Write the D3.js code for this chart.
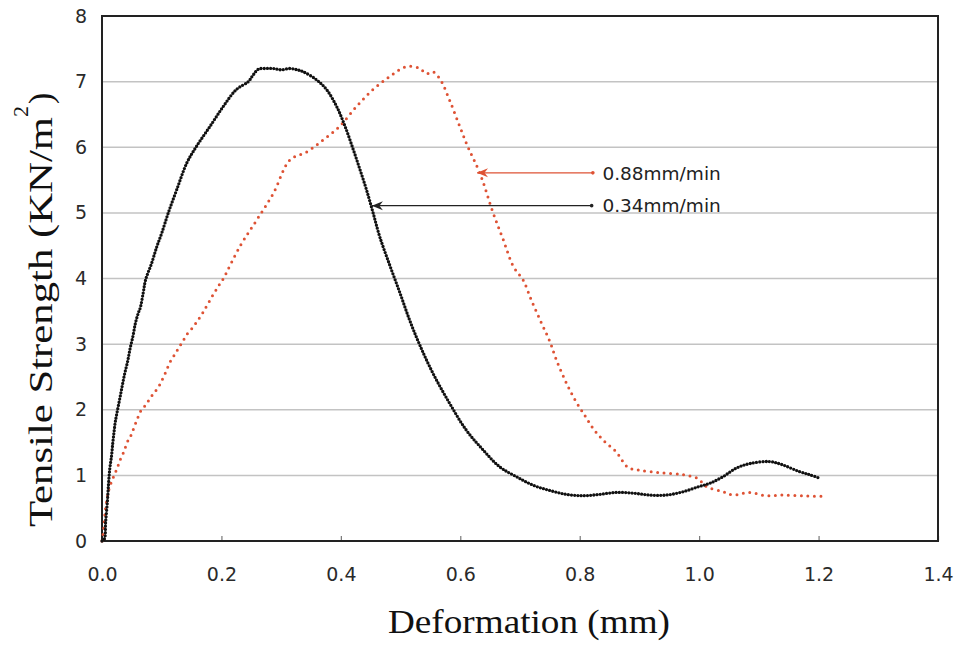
<!DOCTYPE html>
<html>
<head>
<meta charset="utf-8">
<script src="https://cdn.jsdelivr.net/npm/d3@7/dist/d3.min.js"></script>
<style>
  html, body { margin: 0; padding: 0; background: #fff; }
  svg { display: block; }
</style>
</head>
<body>
<svg id="chart" width="959" height="648"></svg>
<script>
// ---------------- DATA ----------------
const xTicks = [0.0, 0.2, 0.4, 0.6, 0.8, 1.0, 1.2, 1.4];
const yTicks = [0, 1, 2, 3, 4, 5, 6, 7, 8];

// 0.34 mm/min series (black)
const slowX = [0, 0.004, 0.006, 0.009, 0.011, 0.013, 0.016, 0.018, 0.020, 0.022, 0.025, 0.030, 0.034, 0.038, 0.043, 0.047, 0.052, 0.056, 0.061, 0.064, 0.069, 0.073, 0.083, 0.092, 0.100, 0.111, 0.125, 0.142, 0.158, 0.181, 0.203, 0.225, 0.245, 0.253, 0.262, 0.275, 0.287, 0.300, 0.315, 0.327, 0.337, 0.359, 0.376, 0.393, 0.407, 0.421, 0.432, 0.443, 0.454, 0.465, 0.482, 0.499, 0.515, 0.532, 0.554, 0.582, 0.610, 0.638, 0.666, 0.694, 0.722, 0.750, 0.778, 0.806, 0.833, 0.861, 0.889, 0.917, 0.945, 0.973, 1.000, 1.018, 1.040, 1.062, 1.085, 1.118, 1.140, 1.167, 1.185, 1.201];
const slowY = [0, 0.03, 0.28, 0.60, 0.88, 1.10, 1.30, 1.49, 1.65, 1.80, 1.95, 2.18, 2.37, 2.55, 2.74, 2.93, 3.13, 3.32, 3.48, 3.55, 3.78, 3.98, 4.23, 4.49, 4.69, 5.00, 5.35, 5.76, 6.01, 6.32, 6.62, 6.88, 7.00, 7.10, 7.19, 7.20, 7.20, 7.18, 7.20, 7.18, 7.15, 7.03, 6.88, 6.62, 6.32, 5.96, 5.66, 5.35, 5.00, 4.64, 4.20, 3.78, 3.37, 2.99, 2.56, 2.10, 1.69, 1.39, 1.13, 0.98, 0.85, 0.77, 0.71, 0.69, 0.71, 0.74, 0.73, 0.70, 0.70, 0.75, 0.83, 0.88, 0.98, 1.11, 1.18, 1.21, 1.16, 1.06, 1.01, 0.96];

// 0.88 mm/min series (red)
const fastX = [0, 0.002, 0.006, 0.012, 0.019, 0.025, 0.031, 0.037, 0.042, 0.049, 0.054, 0.060, 0.066, 0.072, 0.078, 0.084, 0.090, 0.096, 0.102, 0.108, 0.113, 0.119, 0.125, 0.131, 0.137, 0.143, 0.149, 0.155, 0.161, 0.167, 0.172, 0.179, 0.184, 0.190, 0.196, 0.202, 0.231, 0.259, 0.287, 0.315, 0.343, 0.370, 0.398, 0.426, 0.454, 0.482, 0.510, 0.532, 0.543, 0.554, 0.566, 0.582, 0.599, 0.613, 0.633, 0.655, 0.672, 0.689, 0.705, 0.719, 0.736, 0.750, 0.761, 0.778, 0.794, 0.808, 0.822, 0.839, 0.861, 0.881, 0.900, 0.934, 0.973, 0.998, 1.012, 1.040, 1.057, 1.085, 1.112, 1.140, 1.174, 1.204];
const fastY = [0, 0.12, 0.50, 0.80, 0.97, 1.10, 1.25, 1.37, 1.50, 1.62, 1.74, 1.88, 2.00, 2.06, 2.14, 2.22, 2.29, 2.37, 2.48, 2.60, 2.71, 2.80, 2.89, 2.98, 3.07, 3.16, 3.22, 3.29, 3.37, 3.45, 3.53, 3.64, 3.72, 3.81, 3.90, 3.98, 4.49, 4.89, 5.30, 5.81, 5.93, 6.11, 6.32, 6.62, 6.88, 7.08, 7.23, 7.20, 7.12, 7.15, 7.04, 6.72, 6.32, 6.00, 5.60, 5.00, 4.59, 4.18, 3.98, 3.67, 3.32, 3.04, 2.76, 2.40, 2.12, 1.92, 1.72, 1.54, 1.36, 1.12, 1.08, 1.04, 1.01, 0.95, 0.83, 0.75, 0.70, 0.74, 0.69, 0.70, 0.69, 0.68];

// annotations
const annLabels = ["0.88mm/min", "0.34mm/min"];
const annTipX  = [0.628, 0.452];
const annTipY  = [5.61, 5.11];
const annTailX = [0.822, 0.82];
const annTextX = 0.838;

const xTitle = "Deformation (mm)";
const yTitleMain = "Tensile Strength (KN/m";
const yTitleSup = "2";
const yTitleEnd = ")";

// ---------------- LAYOUT ----------------
const svg = d3.select("#chart");
const L = 102, R = 938, T = 16, B = 541;
const x = d3.scaleLinear().domain([0, 1.4]).range([L, R]);
const y = d3.scaleLinear().domain([0, 8]).range([B, T]);

const RED = "#de5234";
const BLACK = "#111";

// gridlines
svg.append("g").selectAll("line").data(yTicks.filter(d => d > 0 && d < 8)).join("line")
  .attr("x1", L).attr("x2", R)
  .attr("y1", d => y(d)).attr("y2", d => y(d))
  .attr("stroke", "#c3c3c3").attr("stroke-width", 1.5);

// x axis
const xAxis = svg.append("g").attr("transform", `translate(0,${B})`)
  .call(d3.axisBottom(x).tickValues(xTicks).tickFormat(d3.format(".1f"))
    .tickSizeInner(-5).tickSizeOuter(0).tickPadding(27));
xAxis.select(".domain").remove();
xAxis.selectAll(".tick line").attr("stroke", "#777").attr("stroke-width", 1.2);
xAxis.selectAll("text").attr("font-family", "DejaVu Sans").attr("font-size", 19)
  .attr("fill", "#2a2a2a");

// y axis
const yAxis = svg.append("g").attr("transform", `translate(${L},0)`)
  .call(d3.axisLeft(y).tickValues(yTicks).tickFormat(d3.format("d"))
    .tickSize(0).tickPadding(15));
yAxis.select(".domain").remove();
yAxis.selectAll("text").attr("font-family", "DejaVu Sans").attr("font-size", 19)
  .attr("fill", "#2a2a2a");

// frame
svg.append("rect").attr("x", L).attr("y", T).attr("width", R - L).attr("height", B - T)
  .attr("fill", "none").attr("stroke", "#222").attr("stroke-width", 2);

// series
const line = d3.line().x(d => x(d[0])).y(d => y(d[1])).curve(d3.curveCatmullRom.alpha(0.5));
const fast = d3.zip(fastX, fastY);
const slow = d3.zip(slowX, slowY);

svg.append("path").datum(fast).attr("d", line)
  .attr("fill", "none").attr("stroke", RED).attr("stroke-width", 3)
  .attr("stroke-linecap", "round").attr("stroke-dasharray", "0 6.5");

svg.append("path").datum(slow).attr("d", line)
  .attr("fill", "none").attr("stroke", BLACK).attr("stroke-width", 3.3)
  .attr("stroke-linecap", "round").attr("stroke-dasharray", "0 3.2");

// arrow markers
const defs = svg.append("defs");
[["arrRed", RED], ["arrBlack", "#222"]].forEach(([id, col]) => {
  defs.append("marker").attr("id", id).attr("markerUnits", "userSpaceOnUse")
    .attr("markerWidth", 14).attr("markerHeight", 12)
    .attr("viewBox", "-1 -6 14 12").attr("refX", 0).attr("refY", 0)
    .attr("orient", "auto")
    .append("path").attr("d", "M0,0 L11,-4.5 L7.5,0 L11,4.5 Z").attr("fill", col);
});

const annColors = [RED, "#222"];
const annMarkers = ["arrRed", "arrBlack"];
annLabels.forEach((lab, i) => {
  svg.append("line")
    .attr("x1", x(annTipX[i])).attr("y1", y(annTipY[i]))
    .attr("x2", x(annTailX[i])).attr("y2", y(annTipY[i]))
    .attr("stroke", annColors[i]).attr("stroke-width", 1.4)
    .attr("marker-start", `url(#${annMarkers[i]})`);
  svg.append("circle").attr("cx", x(annTailX[i])).attr("cy", y(annTipY[i])).attr("r", 1.8)
    .attr("fill", annColors[i]);
  svg.append("text").attr("x", x(annTextX)).attr("y", y(annTipY[i]))
    .attr("dy", "0.36em")
    .attr("font-family", "DejaVu Sans").attr("font-size", 18.5).attr("fill", "#222")
    .text(lab);
});

// axis titles
svg.append("text").attr("x", 529).attr("y", 633).attr("text-anchor", "middle")
  .attr("font-family", "Liberation Serif").attr("font-size", 33).attr("fill", "#111")
  .attr("textLength", 282).attr("lengthAdjust", "spacingAndGlyphs")
  .text(xTitle);

const yt = svg.append("text")
  .attr("transform", "translate(52,527) rotate(-90)")
  .attr("x", 0).attr("y", 0)
  .attr("font-family", "Liberation Serif").attr("font-size", 34).attr("fill", "#111");
yt.append("tspan").text(yTitleMain)
  .attr("textLength", 410).attr("lengthAdjust", "spacingAndGlyphs");
yt.append("tspan").attr("dy", -24).attr("font-size", 22).text(yTitleSup);
yt.append("tspan").attr("dy", 24).attr("dx", 2).text(yTitleEnd);
</script>
</body>
</html>
